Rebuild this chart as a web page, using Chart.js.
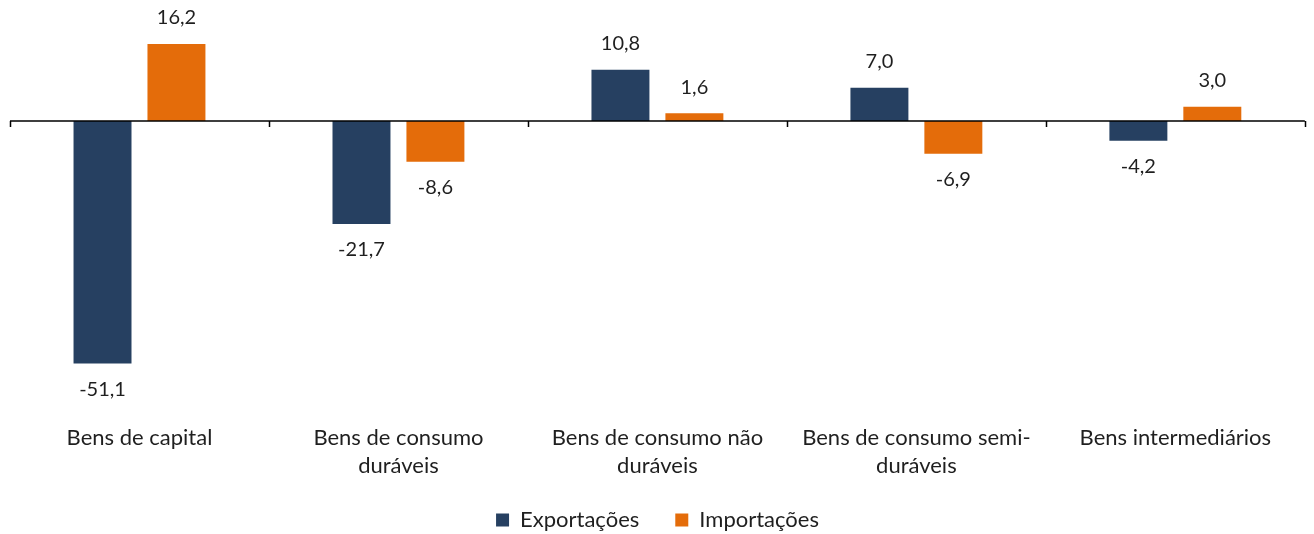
<!DOCTYPE html>
<html lang="pt">
<head>
  <meta charset="UTF-8">
  <title>Exportações e Importações por categoria</title>
  <script src="https://cdn.jsdelivr.net/npm/chart.js"></script>
  <style>
    html, body { margin: 0; padding: 0; background: #fff; }
    #wrap { width: 1314px; height: 534px; }
  </style>
</head>
<body>
  <div id="wrap"><canvas id="grafico"></canvas></div>
  <script>
    const categorias = [
      'Bens de capital',
      ['Bens de consumo', 'duráveis'],
      ['Bens de consumo não', 'duráveis'],
      ['Bens de consumo semi-', 'duráveis'],
      'Bens intermediários'
    ];
    const exportacoes = [-51.1, -21.7, 10.8, 7.0, -4.2];
    const importacoes = [16.2, -8.6, 1.6, -6.9, 3.0];

    const fonte = 'Lato, "Open Sans", sans-serif';
    const corTexto = '#1f1f1f';

    // eixo no zero com marcas entre categorias
    const eixoZero = {
      id: 'eixoZero',
      afterDatasetsDraw(chart) {
        const { ctx, chartArea, scales } = chart;
        const y0 = scales.y.getPixelForValue(0);
        const n = categorias.length;
        const w = (chartArea.right - chartArea.left) / n;
        ctx.save();
        ctx.strokeStyle = '#000';
        ctx.lineWidth = 1.5;
        ctx.beginPath();
        ctx.moveTo(chartArea.left, y0);
        ctx.lineTo(chartArea.right, y0);
        for (let i = 0; i <= n; i++) {
          const x = Math.round(chartArea.left + i * w) + 0.5;
          ctx.moveTo(x, y0);
          ctx.lineTo(x, y0 + 6);
        }
        ctx.stroke();
        ctx.restore();
      }
    };

    // rótulos de valor
    const rotulos = {
      id: 'rotulos',
      afterDatasetsDraw(chart) {
        const { ctx } = chart;
        ctx.save();
        ctx.font = '20px ' + fonte;
        ctx.fillStyle = corTexto;
        ctx.textAlign = 'center';
        ctx.textBaseline = 'middle';
        chart.data.datasets.forEach((ds, i) => {
          chart.getDatasetMeta(i).data.forEach((bar, j) => {
            const v = ds.data[j];
            const y = v >= 0 ? bar.y - 26 : bar.y + 26;
            ctx.fillText(v.toFixed(1).replace('.', ','), bar.x, y);
          });
        });
        ctx.restore();
      }
    };

    new Chart(document.getElementById('grafico'), {
      type: 'bar',
      data: {
        labels: categorias,
        datasets: [
          {
            label: 'Exportações',
            data: exportacoes,
            backgroundColor: '#264061',
            categoryPercentage: 0.571,
            barPercentage: 0.784
          },
          {
            label: 'Importações',
            data: importacoes,
            backgroundColor: '#E46C0A',
            categoryPercentage: 0.571,
            barPercentage: 0.784
          }
        ]
      },
      options: {
        responsive: true,
        maintainAspectRatio: false,
        animation: false,
        layout: { padding: { top: 26, left: 10, right: 9, bottom: -7 } },
        scales: {
          x: {
            grid: { display: false, drawTicks: false },
            border: { display: false },
            ticks: {
              padding: 42,
              color: corTexto,
              font: { family: fonte, size: 22, lineHeight: 1.27 }
            },
            afterFit(scale) { scale.height = 91; }
          },
          y: {
            display: false,
            min: -55,
            max: 20
          }
        },
        plugins: {
          legend: {
            position: 'bottom',
            labels: {
              boxWidth: 13,
              boxHeight: 13,
              padding: 36,
              color: corTexto,
              font: { family: fonte, size: 22 }
            }
          },
          tooltip: { enabled: false }
        }
      },
      plugins: [eixoZero, rotulos]
    });
  </script>
</body>
</html>
